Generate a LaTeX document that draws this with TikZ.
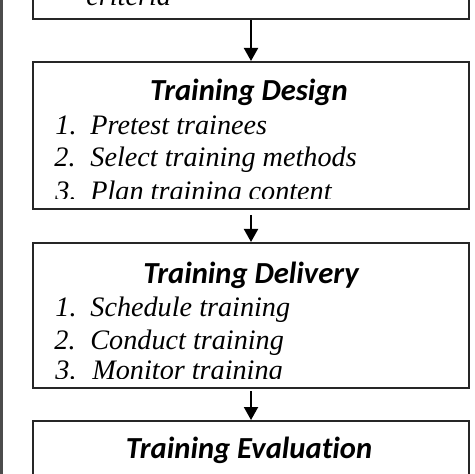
\documentclass[tikz,border=0pt]{standalone}
\usepackage{fontspec}
\setmainfont{Liberation Serif}
\newfontfamily\titlefont[Ligatures=NoCommon]{Carlito}
\usetikzlibrary{arrows.meta}
\begin{document}
\begin{tikzpicture}[x=0.5pt,y=-0.5pt,
  stage/.style={draw=black!85,line width=1pt,rectangle,inner sep=0pt},
  ttl/.style={font=\titlefont\bfseries\itshape\fontsize{15.3}{18}\selectfont,anchor=base,inner sep=0pt},
  itm/.style={font=\itshape\fontsize{14.1}{17}\selectfont,anchor=base west,inner sep=0pt},
  flow/.style={draw=black,line width=1pt,-{Triangle[width=7pt,length=6.5pt]}}]
\useasboundingbox (0,0) rectangle (474,474);
\clip (0,0) rectangle (474,474);
\fill[white] (0,0) rectangle (474,474);
% left border
\draw[black!70,line width=1.5pt] (1.5,0) -- (1.5,474);
% boxes
\node[stage,minimum width=218pt,minimum height=40pt] (crit) at (251,-21) {};
\node[stage,minimum width=218pt,minimum height=73.5pt] (design) at (251,135.5) {};
\node[stage,minimum width=218pt,minimum height=72.5pt] (deliv) at (251,315.5) {};
\node[stage,minimum width=218pt,minimum height=80pt] (eval) at (251,501) {};
% top box text
\node[itm] (crittext) at (86,6) {criteria};
% design
\node[ttl] (dtitle) at (249,101) {Training Design};
\node[itm] (d1n) at (55,135) {1.};
\node[itm] (d1) at (90,135) {Pretest trainees};
\node[itm] (d2n) at (54,167) {2.};
\node[itm] (d2) at (90,167) {Select training methods};
\begin{scope}
\clip (33,150) rectangle (469,199);
\node[itm] (d3n) at (55,200.5) {3.};
\node[itm] (d3) at (90,200.5) {Plan training content};
\end{scope}
% delivery
\node[ttl] (vtitle) at (251,284) {Training Delivery};
\node[itm] (v1n) at (55,316) {1.};
\node[itm] (v1) at (90,316) {Schedule training};
\node[itm] (v2n) at (54,349) {2.};
\node[itm] (v2) at (90,349) {Conduct training};
\begin{scope}
\clip (33,330) rectangle (469,378);
\node[itm] (v3n) at (55,379.5) {3.};
\node[itm] (v3) at (92,379.5) {Monitor training};
\end{scope}
% evaluation
\node[ttl] (etitle) at (249,458) {Training Evaluation};
% arrows
\draw[flow] (crit.south) -- (design.north);
\draw[flow] ([yshift=-2.5pt]design.south) -- (deliv.north);
\draw[flow] ([yshift=-1pt]deliv.south) -- (eval.north);
\end{tikzpicture}
\end{document}
